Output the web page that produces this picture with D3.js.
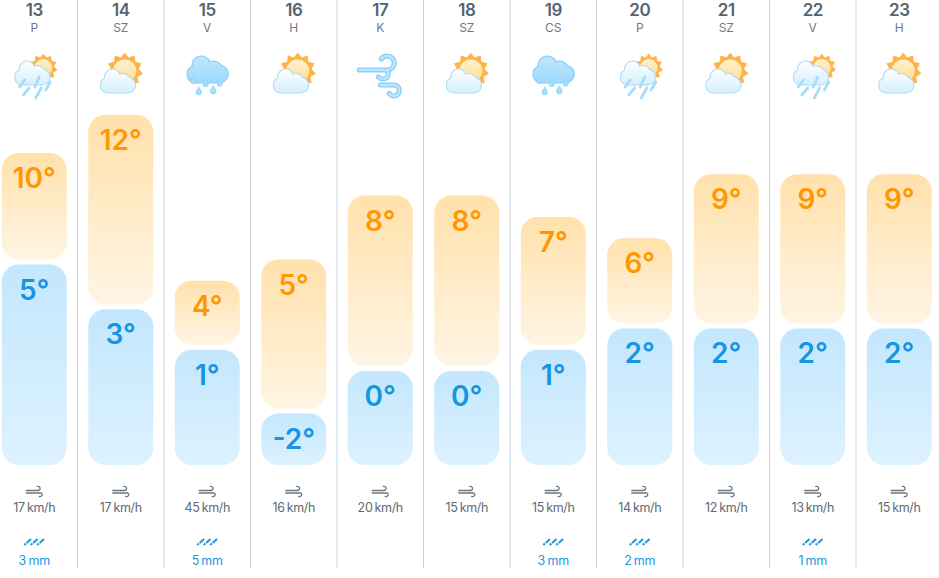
<!DOCTYPE html>
<html><head><meta charset="utf-8">
<script src="https://cdn.jsdelivr.net/npm/d3@7/dist/d3.min.js"></script>
<style>html,body{margin:0;background:#fff}svg{display:block}text{font-family:Inter,"Open Sans",sans-serif}</style>
</head><body><div id="c"></div>
<script>
const days=["13","14","15","16","17","18","19","20","21","22","23"];
const weekdays=["P","SZ","V","H","K","SZ","CS","P","SZ","V","H"];
const highs=[10,11.8,4,5,8,8,7,6,9,9,9];
const highLabels=["10°","12°","4°","5°","8°","8°","7°","6°","9°","9°","9°"];
const lows=[5,2.9,1,-2,0,0,1,2,2,2,2];
const lowLabels=["5°","3°","1°","-2°","0°","0°","1°","2°","2°","2°","2°"];
const icons=["shower","partly","drops","partly","wind","partly","drops","shower","partly","shower","partly"];
const winds=[17,17,45,16,20,15,15,14,12,13,15];
const rains=[3,null,5,null,null,null,3,2,null,1,null];

const W=939,H=578;
const svg=d3.select("#c").append("svg").attr("width",W).attr("height",H);
const defs=svg.append("defs");
function grad(id,a,b){const g=defs.append("linearGradient").attr("id",id).attr("x1",0).attr("y1",0).attr("x2",0).attr("y2",1);
 g.append("stop").attr("offset",0).attr("stop-color",a);g.append("stop").attr("offset",1).attr("stop-color",b);}
grad("gHigh","#ffe1ab","#fff5e4");grad("gLow","#c3e7fd","#ddf2ff");
grad("gCloud","#ffffff","#d6effd");grad("gBlue","#bfe6fe","#9fdafd");grad("gDisc","#fff2cc","#fddc95");
const f=defs.append("filter").attr("id","glow").attr("x","-30%").attr("y","-30%").attr("width","160%").attr("height","160%");
f.append("feGaussianBlur").attr("stdDeviation",.35);

const x=d3.scaleBand().domain(days).range([-9,942.5]);
const y=d3.scaleLinear().domain([0,10]).range([366,153]);
const bottom=465,gap=5,barW=65,cx=d=>x(d)+x.bandwidth()/2;

svg.selectAll("line.sep").data(days.slice(1)).join("line").attr("class","sep")
 .attr("x1",d=>x(d)).attr("x2",d=>x(d)).attr("y1",0).attr("y2",568)
 .attr("stroke","#c6d4df").attr("stroke-width",1);

const col=svg.selectAll("g.col").data(days.map((d,i)=>({d,i}))).join("g").attr("class","col")
 .attr("transform",o=>`translate(${cx(o.d)},0)`);

col.append("text").attr("y",16).attr("text-anchor","middle").attr("font-size",17).attr("font-weight",600).attr("letter-spacing",-.5).attr("fill","#56636f").text(o=>o.d);
col.append("text").attr("y",32).attr("text-anchor","middle").attr("font-size",12).attr("fill","#6d7984").text(o=>weekdays[o.i]);

col.append("rect").attr("x",-barW/2).attr("width",barW).attr("rx",17)
 .attr("y",o=>y(highs[o.i])).attr("height",o=>y(lows[o.i])-y(highs[o.i])).attr("fill","url(#gHigh)");
col.append("rect").attr("x",-barW/2).attr("width",barW).attr("rx",17)
 .attr("y",o=>y(lows[o.i])+gap).attr("height",o=>bottom-y(lows[o.i])-gap).attr("fill","url(#gLow)");
col.append("text").attr("text-anchor","middle").attr("font-size",28).attr("font-weight",600).attr("fill","#ff9800")
 .attr("y",o=>y(highs[o.i])+35).text(o=>highLabels[o.i]);
col.append("text").attr("text-anchor","middle").attr("font-size",28).attr("font-weight",600).attr("fill","#1695e0")
 .attr("y",o=>y(lows[o.i])+gap+35).text(o=>lowLabels[o.i]);

// icons
const cloudD="M-10,0 H11 A8,8 0 0 0 13,-15.7 A9,9 0 0 0 3,-19 A7.8,7.8 0 0 0 -12,-15 A8,8 0 0 0 -10,0 Z";
function sun(g,sx,sy,r){
 const pts=[];const n=11;
 for(let i=0;i<n*2;i++){const a=i*Math.PI/n,rr=i%2?r*0.76:r;pts.push([sx+rr*Math.sin(a),sy-rr*Math.cos(a)]);}
 g.append("polygon").attr("points",pts.join(" ")).attr("fill","#ffb347").attr("stroke","#ffb347").attr("stroke-width",.6).attr("stroke-linejoin","round");
 g.append("circle").attr("cx",sx).attr("cy",sy).attr("r",r*0.64).attr("fill","url(#gDisc)");
}
function cloud(g,tx,ty,s){
 g.append("path").attr("d",cloudD).attr("transform",`translate(${tx},${ty}) scale(${s})`)
  .attr("fill","url(#gCloud)").attr("stroke","#aadcf7").attr("stroke-width",1.1);
}
function drop(g,dx,dy,s){
 g.append("path").attr("d",`M${dx},${dy-s*1.5} C${dx+s*.4},${dy-s*.6} ${dx+s},${dy-s*.2} ${dx+s},${dy+s*.4} a${s},${s} 0 0 1 ${-2*s},0 C${dx-s},${dy-s*.2} ${dx-s*.4},${dy-s*.6} ${dx},${dy-s*1.5} z`)
  .attr("fill","#a6dffc").attr("stroke","#7fcdf7").attr("stroke-width",.7);
}
const painters={
 partly(g){sun(g,4,71,18);cloud(g,-4,93,1);},
 shower(g){sun(g,9,68,14);cloud(g,-3,85,1);
  [[-9.5,80,-14.5,87],[5,77,.5,87],[16,82,11.5,90],[-5,88,-11,95],[7,88,1.5,98]].forEach(l=>
   g.append("line").attr("x1",l[0]).attr("y1",l[1]).attr("x2",l[2]).attr("y2",l[3]).attr("stroke","#a3defc").attr("stroke-width",2.8).attr("stroke-linecap","round"));},
 drops(g){g.append("path").attr("d",cloudD).attr("transform","translate(-1,83) scale(1.17,1.12)").attr("fill","url(#gBlue)").attr("stroke","#85cff8").attr("stroke-width",1);
  [[-14,80,2.6],[-1.5,83,2.6],[12.5,82.5,2.6],[-8.5,91,2.8],[6,90,2.8]].forEach(d=>drop(g,d[0],d[1],d[2]));},
 wind(g){
  const ds=["M-21,70 H7 A7,7 0 0 0 7,56 Q3,56 1,59","M7,71 C9,73 8,79 3,79 Q0,79 -2,77","M0,85 H14 A5.5,5.5 0 1 1 9,93.5"];
  [["#82cdf9",5],["#bde6fe",2.4]].forEach(s=>ds.forEach(d=>g.append("path").attr("d",d).attr("fill","none").attr("stroke",s[0]).attr("stroke-width",s[1]).attr("stroke-linecap","round")));
 }
};
col.each(function(o){const g=d3.select(this).append("g").attr("filter","url(#glow)");painters[icons[o.i]](g);});

// wind small icon + label
const wg=col.append("g").attr("fill","none").attr("stroke","#6b7680").attr("stroke-width",1.3).attr("stroke-linecap","round");
wg.append("path").attr("d","M-8,490.5 H3.5 C7,490.5 6.5,486 3,486.3");
wg.append("path").attr("d","M-8,493 H7 C9,494 8,497 5,496.5");
col.append("text").attr("y",512).attr("text-anchor","middle").attr("font-size",12.5).attr("letter-spacing",-.35).attr("word-spacing",-1).attr("fill","#5f6a74").text(o=>winds[o.i]+" km/h");

// rain
const rc=col.filter(o=>rains[o.i]!==null);
rc.each(function(){const g=d3.select(this);
 [-10,-3.5,3].forEach(dx=>{
  g.append("line").attr("x1",dx).attr("y1",545).attr("x2",dx+1.6).attr("y2",543.6).attr("stroke","#1a96e0").attr("stroke-width",2);
  g.append("line").attr("x1",dx+2.4).attr("y1",542.9).attr("x2",dx+6.8).attr("y2",539).attr("stroke","#1a96e0").attr("stroke-width",2);});});
rc.append("text").attr("y",565).attr("text-anchor","middle").attr("font-size",12.5).attr("letter-spacing",-.2).attr("word-spacing",-1).attr("fill","#1a96e0").text(o=>rains[o.i]+" mm");
</script></body></html>
